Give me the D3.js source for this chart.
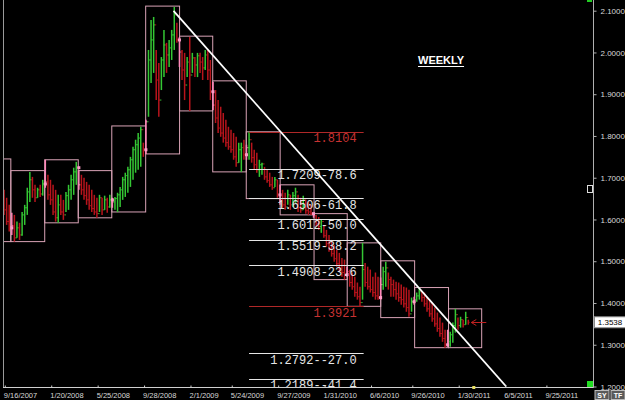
<!DOCTYPE html>
<html>
<head>
<meta charset="utf-8">
<script src="https://cdn.jsdelivr.net/npm/d3@7/dist/d3.min.js"></script>
<style>
  html, body { margin: 0; padding: 0; background: #000; }
  svg { display: block; }
</style>
</head>
<body>
<svg id="chart" width="625" height="400"></svg>
<script>
// EUR/AUD weekly -- quarter range boxes, trend line, fib levels

// Weekly bars as [high, low, close], one array per quarter.
// The open of each week is the close of the week before.
var firstOpen = 1.647;

var q3_2007 = [[1.671, 1.611, 1.623], [1.652, 1.587, 1.595], [1.635, 1.571, 1.580]];
var q4_2007 = [
  [1.616, 1.563, 1.585], [1.611, 1.547, 1.556], [1.595, 1.556, 1.580], [1.592, 1.551, 1.563],
  [1.618, 1.561, 1.611], [1.635, 1.587, 1.628], [1.676, 1.611, 1.666], [1.714, 1.642, 1.695],
  [1.702, 1.652, 1.671], [1.683, 1.642, 1.652], [1.676, 1.652, 1.671], [1.683, 1.654, 1.661],
  [1.695, 1.657, 1.685]];
var q1_2008 = [
  [1.743, 1.676, 1.690], [1.707, 1.647, 1.659], [1.695, 1.635, 1.647], [1.683, 1.611, 1.618],
  [1.671, 1.595, 1.604], [1.659, 1.592, 1.635], [1.659, 1.611, 1.618], [1.647, 1.599, 1.611],
  [1.666, 1.618, 1.657], [1.683, 1.623, 1.671], [1.707, 1.647, 1.695], [1.724, 1.659, 1.714],
  [1.738, 1.683, 1.724]];
var q2_2008 = [
  [1.717, 1.671, 1.683], [1.707, 1.659, 1.671], [1.700, 1.647, 1.657], [1.690, 1.635, 1.647],
  [1.683, 1.623, 1.633], [1.671, 1.618, 1.626], [1.659, 1.611, 1.618], [1.652, 1.604, 1.614],
  [1.659, 1.618, 1.652], [1.652, 1.611, 1.623], [1.657, 1.623, 1.647], [1.652, 1.616, 1.630],
  [1.659, 1.628, 1.647]];
var q3_2008 = [
  [1.652, 1.628, 1.642], [1.654, 1.623, 1.650], [1.664, 1.618, 1.659], [1.678, 1.630, 1.671],
  [1.702, 1.647, 1.695], [1.712, 1.654, 1.705], [1.726, 1.664, 1.719], [1.750, 1.678, 1.743],
  [1.774, 1.695, 1.767], [1.791, 1.712, 1.779], [1.807, 1.719, 1.795], [1.822, 1.726, 1.815],
  [1.784, 1.750, 1.767]];
var q4_2008 = [
  [1.839, 1.757, 1.834], [2.006, 1.846, 1.982], [2.078, 1.927, 2.030], [2.085, 1.951, 2.066],
  [2.006, 1.886, 1.934], [1.975, 1.846, 1.886], [1.989, 1.910, 1.982], [2.054, 1.941, 2.018],
  [2.023, 1.951, 1.994], [2.030, 1.965, 2.011], [2.054, 1.982, 2.042], [2.109, 2.006, 2.090],
  [2.071, 2.023, 2.030]];
var q1_2009 = [
  [2.037, 1.965, 2.001], [2.006, 1.934, 1.958], [1.999, 1.886, 1.922], [1.989, 1.941, 1.977],
  [2.037, 1.860, 1.946], [1.999, 1.951, 1.987], [1.989, 1.941, 1.970], [1.999, 1.941, 1.992],
  [1.999, 1.951, 1.977], [1.989, 1.934, 1.963], [2.006, 1.958, 1.994], [2.006, 1.934, 1.958],
  [1.982, 1.886, 1.906]];
var q2_2009 = [
  [1.929, 1.862, 1.874], [1.910, 1.831, 1.843], [1.886, 1.807, 1.819], [1.870, 1.798, 1.807],
  [1.855, 1.784, 1.795], [1.839, 1.774, 1.784], [1.822, 1.767, 1.774], [1.815, 1.760, 1.767],
  [1.807, 1.743, 1.750], [1.798, 1.726, 1.736], [1.784, 1.736, 1.767], [1.784, 1.714, 1.772],
  [1.791, 1.743, 1.755]];
var q3_2009 = [
  [1.779, 1.743, 1.772], [1.810, 1.743, 1.791], [1.784, 1.736, 1.748], [1.767, 1.719, 1.731],
  [1.760, 1.712, 1.719], [1.743, 1.702, 1.731], [1.736, 1.707, 1.733], [1.726, 1.695, 1.702],
  [1.719, 1.688, 1.693], [1.712, 1.678, 1.683], [1.702, 1.671, 1.676], [1.702, 1.678, 1.695],
  [1.695, 1.652, 1.659]];
var q4_2009 = [
  [1.683, 1.635, 1.647], [1.671, 1.628, 1.635], [1.664, 1.623, 1.630], [1.671, 1.635, 1.659],
  [1.659, 1.623, 1.635], [1.666, 1.630, 1.657], [1.676, 1.640, 1.666], [1.659, 1.618, 1.628],
  [1.652, 1.616, 1.623], [1.657, 1.623, 1.647], [1.647, 1.614, 1.621], [1.642, 1.611, 1.618],
  [1.635, 1.611, 1.614]];
var q1_2010 = [
  [1.614, 1.604, 1.609], [1.611, 1.583, 1.590], [1.606, 1.575, 1.583], [1.599, 1.568, 1.595],
  [1.587, 1.556, 1.561], [1.575, 1.535, 1.542], [1.563, 1.523, 1.530], [1.551, 1.511, 1.518],
  [1.539, 1.499, 1.506], [1.528, 1.487, 1.494], [1.520, 1.475, 1.482], [1.508, 1.463, 1.473],
  [1.504, 1.456, 1.468]];
var q2_2010 = [
  [1.487, 1.463, 1.475], [1.480, 1.439, 1.449], [1.473, 1.432, 1.439], [1.463, 1.415, 1.425],
  [1.449, 1.408, 1.415], [1.439, 1.392, 1.401], [1.544, 1.408, 1.480], [1.496, 1.439, 1.449],
  [1.487, 1.432, 1.439], [1.480, 1.425, 1.432], [1.463, 1.415, 1.425], [1.473, 1.408, 1.417],
  [1.463, 1.408, 1.413]];
var q3_2010 = [
  [1.461, 1.408, 1.444], [1.487, 1.432, 1.475], [1.499, 1.439, 1.484], [1.473, 1.432, 1.456],
  [1.463, 1.415, 1.444], [1.456, 1.415, 1.432], [1.451, 1.408, 1.422], [1.449, 1.403, 1.413],
  [1.444, 1.396, 1.408], [1.439, 1.389, 1.398], [1.437, 1.379, 1.389], [1.432, 1.367, 1.374],
  [1.413, 1.379, 1.403]];
var q4_2010 = [
  [1.415, 1.396, 1.408], [1.425, 1.403, 1.417], [1.437, 1.408, 1.427], [1.427, 1.403, 1.413],
  [1.425, 1.391, 1.398], [1.415, 1.379, 1.386], [1.408, 1.367, 1.374], [1.401, 1.355, 1.362],
  [1.389, 1.343, 1.350], [1.377, 1.331, 1.339], [1.365, 1.319, 1.327], [1.353, 1.307, 1.315],
  [1.336, 1.293, 1.300]];
var q1_2011 = [
  [1.336, 1.295, 1.307], [1.331, 1.295, 1.324], [1.353, 1.305, 1.346], [1.386, 1.329, 1.372],
  [1.365, 1.336, 1.346], [1.367, 1.341, 1.360], [1.360, 1.341, 1.348], [1.379, 1.348, 1.365],
  [1.360, 1.348, 1.3538]];

var quarterBars = [q3_2007, q4_2007, q1_2008, q2_2008, q3_2008, q4_2008, q1_2009, q2_2009,
                   q3_2009, q4_2009, q1_2010, q2_2010, q3_2010, q4_2010, q1_2011];

// Quarterly range boxes (Q3 2007 .. Q1 2011)
var quarterHigh = [1.745, 1.717, 1.743, 1.717, 1.824, 2.111, 2.039, 1.932, 1.810, 1.683, 1.614, 1.544, 1.501, 1.437, 1.386];
var quarterLow  = [1.547, 1.547, 1.592, 1.604, 1.618, 1.757, 1.860, 1.714, 1.650, 1.611, 1.456, 1.392, 1.365, 1.293, 1.293];

// Fibonacci levels of the 1.8104 -> 1.3921 swing
var fibValue   = [1.8104, 1.7209, 1.6506, 1.6012, 1.5519, 1.4908, 1.3921, 1.2792, 1.2189];
var fibPercent = [null, 78.6, 61.8, 50.0, 38.2, 23.6, null, -27.0, -41.4];
var fibFrom = "2009-07-10", fibTo = "2010-05-17";

// Trend line from the December 2008 top
var trendDates  = ["2008-12-17", "2011-06-08"];
var trendValues = [2.0995, 1.2000];

var dateTicks  = ["9/16/2007", "1/20/2008", "5/25/2008", "9/28/2008", "2/1/2009", "5/24/2009", "9/27/2009",
                  "1/31/2010", "6/6/2010", "9/26/2010", "1/30/2011", "6/5/2011", "9/25/2011"];
var priceTicks = [1.2, 1.3, 1.4, 1.5, 1.6, 1.7, 1.8, 1.9, 2.0, 2.1];
var lastPrice = 1.3538;

///////////////////////////////////////////////////////////////////////////////
// Scales

var svg = d3.select("#chart");
var parseTick = d3.timeParse("%m/%d/%Y");
var parseDay = d3.timeParse("%Y-%m-%d");

var plotLeft = 3, plotRight = 593, plotBottom = 387;

var x = d3.scaleTime()
  .domain([parseTick("9/16/2007"), parseTick("9/25/2011")])
  .range([4.8, 546.4]);
var y = d3.scaleLinear().domain([1.2, 2.1]).range([386.5, 10.7]);

svg.append("rect").attr("width", 625).attr("height", 400).attr("fill", "#000");

svg.append("clipPath").attr("id", "plot")
  .append("rect").attr("x", plotLeft).attr("y", 0)
  .attr("width", plotRight - plotLeft).attr("height", plotBottom);

var plot = svg.append("g").attr("clip-path", "url(#plot)");

// Build the weekly bar list (Friday dates)
var bars = [];
var open = firstOpen;
var week = parseDay("2007-09-14");
quarterBars.forEach(function (q, qi) {
  q.forEach(function (b, i) {
    bars.push({ date: week, open: open, high: b[0], low: b[1], close: b[2], first: qi > 0 && i === 0 });
    open = b[2];
    week = d3.timeDay.offset(week, 7);
  });
});

var quarterStarts = d3.timeMonths(parseDay("2007-07-01"), parseDay("2011-04-02"), 3);

///////////////////////////////////////////////////////////////////////////////
// Quarter boxes

plot.selectAll("rect.box")
  .data(quarterHigh)
  .enter().append("rect")
  .attr("class", "box")
  .attr("x", function (d, i) { return x(quarterStarts[i]) + 0.5; })
  .attr("y", function (d) { return y(d); })
  .attr("width", function (d, i) { return x(quarterStarts[i + 1]) - x(quarterStarts[i]); })
  .attr("height", function (d, i) { return y(quarterLow[i]) - y(d); })
  .attr("fill", "none")
  .attr("stroke", "#d9a3b6")
  .attr("stroke-width", 1);

///////////////////////////////////////////////////////////////////////////////
// Bars

var barColor = function (b) {
  if (b.first) return "#ff86b8";
  return b.close >= b.open ? "#34c734" : "#b8141c";
};

var barG = plot.selectAll("g.bar")
  .data(bars)
  .enter().append("g")
  .attr("class", "bar")
  .attr("stroke", barColor);

barG.append("line")
  .attr("x1", function (b) { return x(b.date); })
  .attr("x2", function (b) { return x(b.date); })
  .attr("y1", function (b) { return y(b.high); })
  .attr("y2", function (b) { return y(b.low); })
  .attr("stroke-width", 1.5);

barG.append("line")
  .attr("x1", function (b) { return x(b.date) - 1.3; })
  .attr("x2", function (b) { return x(b.date); })
  .attr("y1", function (b) { return y(b.open); })
  .attr("y2", function (b) { return y(b.open); })
  .attr("stroke-width", 1);

barG.append("line")
  .attr("x1", function (b) { return x(b.date); })
  .attr("x2", function (b) { return x(b.date) + 1.3; })
  .attr("y1", function (b) { return y(b.close); })
  .attr("y2", function (b) { return y(b.close); })
  .attr("stroke-width", 1);

// quarter open marker
plot.selectAll("rect.qopen")
  .data(bars.filter(function (b) { return b.first; }))
  .enter().append("rect")
  .attr("x", function (b) { return x(b.date) - 1.5; })
  .attr("y", function (b) { return y(b.open) - 1.5; })
  .attr("width", 3).attr("height", 3)
  .attr("fill", "#ff9cc8");

///////////////////////////////////////////////////////////////////////////////
// Fib levels

var fx1 = x(parseDay(fibFrom)), fx2 = x(parseDay(fibTo));

var fib = plot.selectAll("g.fib")
  .data(fibValue)
  .enter().append("g");

fib.append("line")
  .attr("x1", fx1).attr("x2", fx2)
  .attr("y1", function (d) { return Math.round(y(d)) + 0.5; })
  .attr("y2", function (d) { return Math.round(y(d)) + 0.5; })
  .attr("stroke", function (d, i) { return fibPercent[i] === null ? "#b02828" : "#e6e6e6"; })
  .attr("stroke-width", 1);

fib.append("text")
  .attr("x", fx2 - 7)
  .attr("y", function (d) { return y(d) + 10.5; })
  .attr("text-anchor", "end")
  .attr("font-family", "Liberation Mono, monospace")
  .attr("font-size", "12px")
  .attr("fill", function (d, i) { return fibPercent[i] === null ? "#c83232" : "#e6e6e6"; })
  .text(function (d, i) {
    var p = fibPercent[i];
    return d.toFixed(4) + (p === null ? "" : "-" + p.toFixed(1));
  });

///////////////////////////////////////////////////////////////////////////////
// Trend line

plot.append("line")
  .attr("x1", x(parseDay(trendDates[0]))).attr("y1", y(trendValues[0]))
  .attr("x2", x(parseDay(trendDates[1]))).attr("y2", y(trendValues[1]))
  .attr("stroke", "#fff")
  .attr("stroke-width", 1.8);

// arrow at the last bar
var last = bars[bars.length - 1];
var ax = x(last.date) + 3, ay = Math.round(y(lastPrice)) + 0.5;
svg.append("path")
  .attr("d", "M" + (ax + 15) + "," + ay + "H" + ax + "M" + (ax + 5) + "," + (ay - 3) + "L" + ax + "," + ay + "L" + (ax + 5) + "," + (ay + 3))
  .attr("stroke", "#c02020").attr("fill", "none").attr("stroke-width", 1);

///////////////////////////////////////////////////////////////////////////////
// Axes

svg.append("line")
  .attr("x1", plotLeft + 0.5).attr("x2", plotLeft + 0.5)
  .attr("y1", 0).attr("y2", plotBottom)
  .attr("stroke", "#9a9a9a");

svg.append("line")
  .attr("x1", plotLeft).attr("x2", plotRight)
  .attr("y1", plotBottom + 0.5).attr("y2", plotBottom + 0.5)
  .attr("stroke", "#d0d0d0");

svg.append("line")
  .attr("x1", plotRight + 0.5).attr("x2", plotRight + 0.5)
  .attr("y1", 0).attr("y2", plotBottom + 1)
  .attr("stroke", "#b0b0b0");

var yAxis = svg.append("g")
  .attr("transform", "translate(" + (plotRight + 0.5) + ",0)")
  .call(d3.axisRight(y).tickValues(priceTicks).tickFormat(d3.format(".4f")).tickSize(3).tickPadding(4));
yAxis.select(".domain").remove();
yAxis.selectAll("line").attr("stroke", "#b0b0b0");
yAxis.selectAll("text").attr("fill", "#d8d8d8")
  .attr("font-family", "Liberation Sans, Arial, sans-serif").attr("font-size", "8px");

var xAxis = svg.append("g")
  .attr("transform", "translate(0," + (plotBottom + 0.5) + ")")
  .call(d3.axisBottom(x).tickValues(dateTicks.map(parseTick)).tickSize(-2).tickPadding(5)
    .tickFormat(function (d, i) { return dateTicks[i]; }));
xAxis.select(".domain").remove();
xAxis.selectAll("line").attr("stroke", "#d0d0d0");
xAxis.selectAll("text").attr("fill", "#d8d8d8").attr("text-anchor", "start").attr("dx", -1.5)
  .attr("font-family", "Liberation Sans, Arial, sans-serif").attr("font-size", "7.5px");

// last price tag
var tagY = y(lastPrice);
svg.append("rect")
  .attr("x", plotRight + 1.5).attr("y", tagY - 5.5)
  .attr("width", 31).attr("height", 11)
  .attr("fill", "#fff").attr("stroke", "#888");
svg.append("text")
  .attr("x", plotRight + 17).attr("y", tagY + 3)
  .attr("text-anchor", "middle")
  .attr("font-family", "Liberation Sans, Arial, sans-serif").attr("font-size", "8px")
  .attr("fill", "#000").text(lastPrice.toFixed(4));

// current week marker on the time axis
svg.append("rect")
  .attr("x", x(last.date) + 4).attr("y", plotBottom - 1)
  .attr("width", 3).attr("height", 3).attr("fill", "#e8e060");

// small widgets on the price axis
svg.append("rect").attr("x", 587.5).attr("y", 185.5).attr("width", 5).attr("height", 7)
  .attr("fill", "#000").attr("stroke", "#ddd");
svg.append("rect").attr("x", 587).attr("y", 0).attr("width", 5).attr("height", 2).attr("fill", "#22cc22");

// corner widgets
svg.append("rect").attr("x", 587).attr("y", 381).attr("width", 6).attr("height", 6).attr("fill", "#22dd22");
[["SY", 595], ["TF", 611]].forEach(function (b) {
  svg.append("rect").attr("x", b[1]).attr("y", 390.5).attr("width", 14).attr("height", 9)
    .attr("fill", "#5a5a5a").attr("stroke", "#bbb");
  svg.append("text").attr("x", b[1] + 7).attr("y", 398).attr("text-anchor", "middle")
    .attr("font-family", "Liberation Sans, Arial, sans-serif").attr("font-size", "7px")
    .attr("font-weight", "bold").attr("fill", "#fff").text(b[0]);
});

///////////////////////////////////////////////////////////////////////////////
// Title

var title = svg.append("text")
  .attr("x", 418).attr("y", 64)
  .attr("font-family", "Liberation Sans, Arial, sans-serif")
  .attr("font-size", "11px").attr("font-weight", "bold")
  .attr("fill", "#fff").text("WEEKLY");
var tw = title.node().getComputedTextLength();
svg.append("line").attr("x1", 418).attr("x2", 418 + tw)
  .attr("y1", 66.5).attr("y2", 66.5).attr("stroke", "#fff").attr("stroke-width", 1.2);
</script>
</body>
</html>
